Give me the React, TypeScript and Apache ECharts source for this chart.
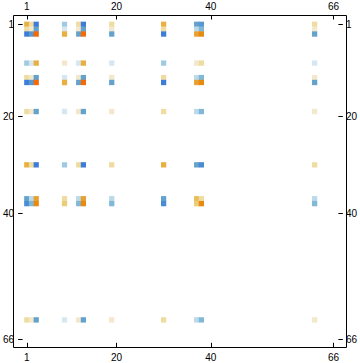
import React, { useEffect, useRef } from "react";
import * as echarts from "echarts";

// Matrix size and tick labels
const size = 66;
const tickLabels = [1, 20, 40, 66];

// Row/column indices that hold non-zero entries
const indices = [1, 2, 3, 9, 12, 13, 19, 30, 37, 38, 62];

// Matrix values, one array per non-empty row (columns follow `indices`)
const row1 = [0.625, 0.25, -1, -0.375, 0.25, -1, 0.25, 0.625, -0.625, -0.75, 0.25];
const row2 = [0.25, 0.125, -0.625, -0.125, 0.125, -0.625, 0.125, 0.25, -0.25, -0.5, 0.125];
const row3 = [-1, -0.75, 1, 0.625, -0.625, 1, -0.625, -1, 0.75, 0.875, -0.625];
const row9 = [-0.375, -0.125, 0.625, 0.125, -0.125, 0.625, -0.125, -0.375, 0.125, 0.25, -0.125];
const row12 = [0.25, 0.125, -0.625, -0.125, 0.125, -0.625, 0.125, 0.25, -0.25, -0.5, 0.125];
const row13 = [-1, -0.75, 1, 0.625, -0.625, 1, -0.625, -1, 0.75, 0.875, -0.625];
const row19 = [0.25, 0.125, -0.625, -0.125, 0.125, -0.625, 0.125, 0.25, -0.25, -0.5, 0.125];
const row30 = [0.625, 0.25, -1, -0.375, 0.25, -1, 0.25, 0.625, -0.625, -0.875, 0.25];
const row37 = [-0.625, -0.25, 0.75, 0.25, -0.25, 0.75, -0.25, -0.625, 0.5, 0.25, -0.25];
const row38 = [-0.875, -0.5, 0.875, 0.375, -0.5, 0.875, -0.5, -0.875, 0.375, 0.875, -0.5];
const row62 = [0.25, 0.125, -0.625, -0.125, 0.125, -0.625, 0.125, 0.25, -0.25, -0.5, 0.125];

const rows = [row1, row2, row3, row9, row12, row13, row19, row30, row37, row38, row62];

const colorStops = [
  "#3D7DD9", "#4A8CD4", "#5A98D0", "#64A2CE", "#80B8D8", "#A0CAE2", "#BAD9E9", "#D6E7F1",
  "#FFFFFF",
  "#F3E8CC", "#F0DCA0", "#EBCD78", "#E8BE58", "#E8B040", "#E8A030", "#E88A10", "#F56A05",
];

export default function App() {
  const ref = useRef<HTMLDivElement>(null);
  useEffect(() => {
    document.body.style.margin = "0";
    if (!ref.current) return;
    const chart = echarts.init(ref.current, undefined, { renderer: "svg" });
    const categories = Array.from({ length: size }, (_, i) => String(i + 1));
    const data: [number, number, number][] = [];
    rows.forEach((vals, ri) => {
      vals.forEach((v, ci) => {
        if (v !== 0) data.push([indices[ci] - 1, indices[ri] - 1, v]);
      });
    });
    const showTick = (i: number) => tickLabels.includes(i + 1);
    const font = { fontFamily: "Liberation Sans, Arial, sans-serif", fontSize: 10, color: "#000" };
    const mkX = (position: string, offset: number, margin: number) => ({
      type: "category",
      data: categories,
      position,
      offset,
      boundaryGap: true,
      axisLine: { show: false },
      axisTick: {
        show: true,
        inside: true,
        length: 4.5,
        alignWithLabel: true,
        interval: showTick,
        lineStyle: { color: "#000", width: 1 },
      },
      axisLabel: { interval: showTick, margin, ...font },
      splitLine: { show: false },
    });
    const mkY = (position: string, offset: number, margin: number) => ({
      type: "category",
      data: categories,
      position,
      offset,
      inverse: true,
      boundaryGap: true,
      axisLine: { show: false },
      axisTick: {
        show: true,
        inside: true,
        length: 4.5,
        alignWithLabel: true,
        interval: showTick,
        lineStyle: { color: "#000", width: 1 },
      },
      axisLabel: { interval: showTick, margin, ...font },
      splitLine: { show: false },
    });
    chart.setOption({
      animation: false,
      grid: { left: 19.6, top: 21.9, width: 320.2, height: 319.8, containLabel: false },
      xAxis: [mkX("bottom", 5.6, 5), mkX("top", 6.9, 4)],
      yAxis: [mkY("left", 6.3, 4), mkY("right", 7, 3)],
      visualMap: {
        type: "continuous",
        show: false,
        min: -1,
        max: 1,
        dimension: 2,
        seriesIndex: 0,
        inRange: { color: colorStops },
      },
      series: [
        {
          type: "heatmap",
          xAxisIndex: 0,
          yAxisIndex: 0,
          data,
          itemStyle: { borderWidth: 0 },
          emphasis: { disabled: true },
        },
      ],
      graphic: [
        {
          type: "rect",
          shape: { x: 13.5, y: 15.5, width: 333, height: 332 },
          style: { fill: "none", stroke: "#000", lineWidth: 1 },
          silent: true,
          z: 10,
        },
      ],
    });
    return () => chart.dispose();
  }, []);
  return <div ref={ref} style={{ width: 360, height: 363 }} />;
}
